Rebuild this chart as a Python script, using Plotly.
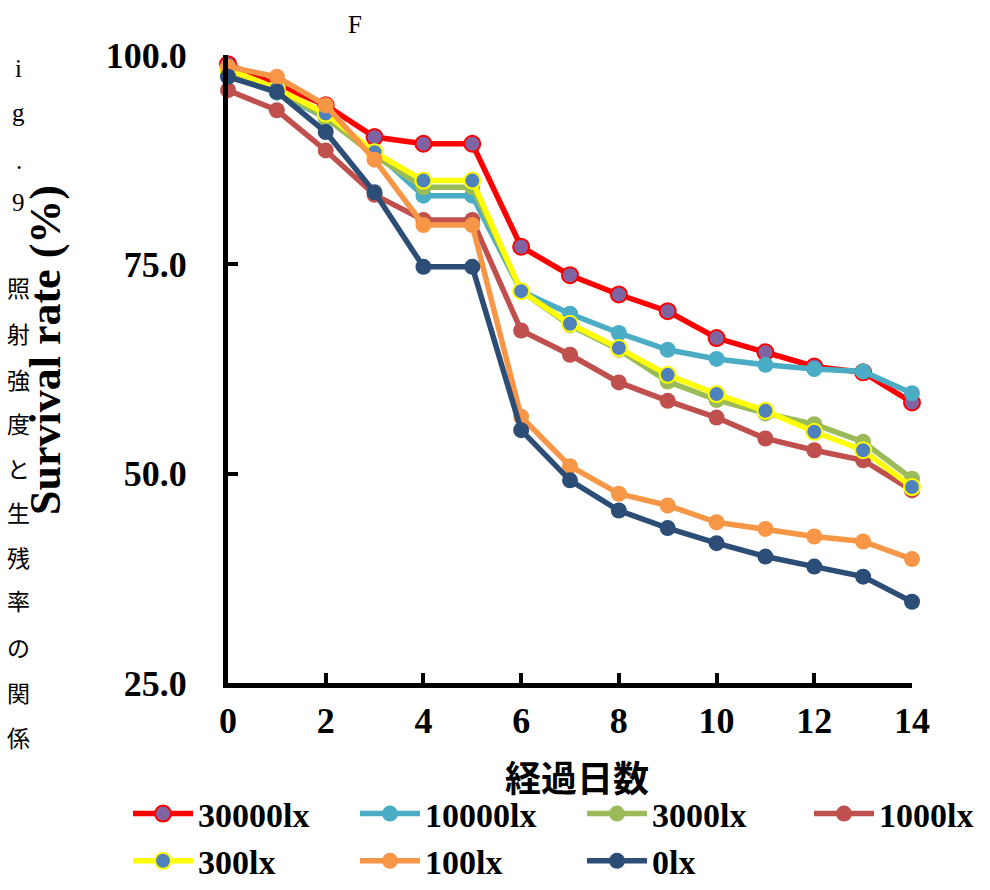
import plotly.graph_objects as go

days = list(range(15))
series_names = ["30000lx", "10000lx", "3000lx", "1000lx", "300lx", "100lx", "0lx"]

v30000 = [98.9, 96.4, 94.0, 90.2, 89.4, 89.4, 77.1, 73.7, 71.4, 69.4, 66.2, 64.5, 62.8, 62.1, 58.5]
v10000 = [97.5, 95.5, 92.5, 88.5, 83.2, 83.2, 71.8, 69.1, 66.8, 64.8, 63.7, 63.0, 62.5, 62.2, 59.6]
v3000 = [97.8, 95.8, 92.5, 88.0, 84.2, 84.2, 71.8, 67.7, 64.8, 61.0, 58.8, 57.2, 55.9, 53.8, 49.4]
v1000 = [95.8, 93.4, 88.6, 83.3, 80.3, 80.3, 67.1, 64.2, 60.9, 58.7, 56.7, 54.2, 52.8, 51.6, 48.0]
v300 = [98.3, 96.0, 93.0, 88.4, 85.0, 85.0, 71.8, 67.9, 65.0, 61.8, 59.5, 57.5, 55.0, 52.8, 48.4]
v100 = [98.6, 97.4, 94.0, 87.5, 79.7, 79.7, 56.8, 50.9, 47.6, 46.2, 44.2, 43.4, 42.5, 41.9, 39.8]
v0 = [97.4, 95.6, 90.8, 83.6, 74.7, 74.7, 55.2, 49.2, 45.6, 43.5, 41.7, 40.1, 38.9, 37.7, 34.7]

values = [v30000, v10000, v3000, v1000, v300, v100, v0]
line_colors = ["#FF0000", "#4BACC6", "#9BBB59", "#C0504D", "#FFFF00", "#F79646", "#2C4D75"]
marker_colors = ["#8064A2", "#4BACC6", "#9BBB59", "#C0504D", "#4F81BD", "#F79646", "#2C4D75"]

y_ticks = [25, 50, 75, 100]
x_title = "経過日数"
y_title = "Survival rate (%)"
caption_chars = ["i", "g", ".", "9", "照", "射", "強", "度", "と", "生", "残", "率", "の", "関", "係"]
caption_y = [68, 113, 160, 202, 287, 333, 379, 423, 468, 512, 557, 600, 647, 692, 737]

L, R, T, B = 228, 912, 55, 683
W, H = 990, 890


def px(xp):
    return (xp - L) / (R - L)


def py(yp):
    return (B - yp) / (B - T)


fig = go.Figure()
for name, vals, lc, mc in zip(series_names, values, line_colors, marker_colors):
    fig.add_trace(go.Scatter(
        x=days, y=vals, name=name, mode="lines+markers",
        line=dict(color=lc, width=5.5),
        marker=dict(color=mc, size=16, line=dict(color=lc, width=2 if mc != lc else 0)),
        cliponaxis=False,
    ))

serif = "Liberation Serif, Times New Roman, serif"

fig.update_layout(
    width=W, height=H,
    margin=dict(l=L, r=W - R, t=T, b=H - B, autoexpand=False),
    plot_bgcolor="white", paper_bgcolor="white",
    showlegend=True,
    legend=dict(
        orientation="h", x=px(128), y=py(890), xanchor="left", yanchor="bottom",
        font=dict(family=serif, size=34, color="black", weight="bold"),
        entrywidth=152, entrywidthmode="pixels",
        itemwidth=60, tracegroupgap=0, borderwidth=0,
    ),
    xaxis=dict(
        range=[0, 14], dtick=2, tick0=0,
        showline=True, linecolor="black", linewidth=5,
        ticks="inside", ticklen=10, tickwidth=4, tickcolor="black",
        showgrid=False, zeroline=False,
        tickfont=dict(family=serif, size=36, color="black", weight="bold"),
        ticklabelstandoff=2,
    ),
    yaxis=dict(
        range=[25, 100], tickvals=y_ticks, tickformat=".1f",
        showline=True, linecolor="black", linewidth=5,
        ticks="inside", ticklen=10, tickwidth=4, tickcolor="black",
        showgrid=False, zeroline=False,
        tickfont=dict(family=serif, size=36, color="black", weight="bold"),
        ticklabelstandoff=29,
    ),
)

annotations = [
    dict(text=x_title, x=px(577), y=py(776), xref="paper", yref="paper", showarrow=False,
         xanchor="center", yanchor="middle",
         font=dict(family="Noto Sans CJK JP", size=36, color="black", weight="bold")),
    dict(text=y_title, x=px(46), y=py(350), xref="paper", yref="paper", showarrow=False,
         xanchor="center", yanchor="middle", textangle=-90,
         font=dict(family=serif, size=44, color="black", weight="bold")),
    dict(text="F", x=px(355), y=py(25), xref="paper", yref="paper", showarrow=False,
         xanchor="center", yanchor="middle",
         font=dict(family=serif, size=25, color="black")),
]
for ch, yy in zip(caption_chars, caption_y):
    is_cjk = ord(ch) > 0x2000
    annotations.append(dict(
        text=ch, x=px(19), y=py(yy), xref="paper", yref="paper", showarrow=False,
        xanchor="center", yanchor="middle",
        font=dict(family="Noto Sans CJK JP" if is_cjk else serif, size=23 if is_cjk else 25,
                  color="black"),
    ))
fig.update_layout(annotations=annotations)

fig.write_html("out.html")
